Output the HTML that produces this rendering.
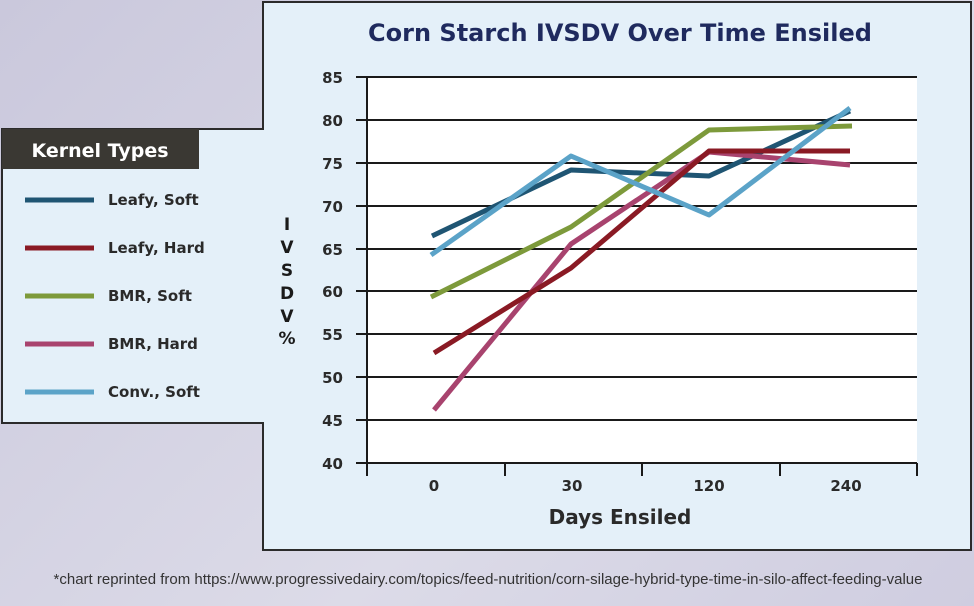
<!DOCTYPE html>
<html><head><meta charset="utf-8"><style>
html,body{margin:0;padding:0;width:974px;height:606px;overflow:hidden;background:linear-gradient(135deg,#cac8dc,#dcdbe8 60%,#cfcde0);}
svg{display:block}
text{font-family:"DejaVu Sans","Liberation Sans",sans-serif;font-weight:bold;}
</style></head><body>
<svg width="974" height="606" viewBox="0 0 974 606">
<path d="M263,2 L971,2 L971,550 L263,550 L263,423 L2,423 L2,129 L263,129 Z" fill="#e4f0f9" stroke="#2b2b2b" stroke-width="2"/>
<rect x="2" y="129" width="197" height="40" fill="#3a3833"/>
<text x="100" y="157" font-size="19" fill="#fff" text-anchor="middle">Kernel Types</text>
<g stroke-width="5">
<line x1="25" y1="200" x2="94" y2="200" stroke="#1f5573"/>
<line x1="25" y1="248" x2="94" y2="248" stroke="#8a1a24"/>
<line x1="25" y1="296" x2="94" y2="296" stroke="#7d9a3b"/>
<line x1="25" y1="344" x2="94" y2="344" stroke="#a8436e"/>
<line x1="25" y1="392" x2="94" y2="392" stroke="#5ba3c8"/>
</g>
<g font-size="15" fill="#2a2a2a">
<text x="108" y="205">Leafy, Soft</text>
<text x="108" y="253">Leafy, Hard</text>
<text x="108" y="301">BMR, Soft</text>
<text x="108" y="349">BMR, Hard</text>
<text x="108" y="397">Conv., Soft</text>
</g>
<text x="620" y="41" font-size="24" fill="#1f2a5e" text-anchor="middle">Corn Starch IVSDV Over Time Ensiled</text>
<rect x="367" y="77" width="550" height="386" fill="#fff"/>
<g stroke="#1a1a1a" stroke-width="2">
<line x1="356" y1="77" x2="917" y2="77"/><line x1="356" y1="120" x2="917" y2="120"/>
<line x1="356" y1="163" x2="917" y2="163"/><line x1="356" y1="206" x2="917" y2="206"/>
<line x1="356" y1="249" x2="917" y2="249"/><line x1="356" y1="291" x2="917" y2="291"/>
<line x1="356" y1="334" x2="917" y2="334"/><line x1="356" y1="377" x2="917" y2="377"/>
<line x1="356" y1="420" x2="917" y2="420"/><line x1="356" y1="463" x2="917" y2="463"/>
<line x1="367" y1="77" x2="367" y2="476"/>
<line x1="505" y1="463" x2="505" y2="476"/><line x1="642" y1="463" x2="642" y2="476"/>
<line x1="780" y1="463" x2="780" y2="476"/><line x1="917" y1="463" x2="917" y2="476"/>
</g>
<g font-size="15" fill="#2a2a2a" text-anchor="end">
<text x="343" y="83">85</text><text x="343" y="126">80</text><text x="343" y="169">75</text>
<text x="343" y="212">70</text><text x="343" y="255">65</text><text x="343" y="297">60</text>
<text x="343" y="340">55</text><text x="343" y="383">50</text><text x="343" y="426">45</text>
<text x="343" y="469">40</text>
</g>
<g font-size="15" fill="#2a2a2a" text-anchor="middle">
<text x="434" y="491">0</text><text x="572" y="491">30</text><text x="709" y="491">120</text><text x="846" y="491">240</text>
</g>
<text x="620" y="524" font-size="20" fill="#2a2a2a" text-anchor="middle">Days Ensiled</text>
<g font-size="17" fill="#1a1a1a" text-anchor="middle">
<text x="287" y="230">I</text><text x="287" y="253">V</text><text x="287" y="276">S</text>
<text x="287" y="299">D</text><text x="287" y="322">V</text><text x="287" y="344">%</text>
</g>
<g fill="none" stroke-width="5" stroke-linejoin="round">
<polyline stroke="#1f5573" points="432,236 571,170 709,176 850,111"/>
<polyline stroke="#a8436e" points="434,410 571,244 709,152 850,165"/>
<polyline stroke="#8a1a24" points="434,353 571,268 709,151 850,151"/>
<polyline stroke="#7d9a3b" points="431,297 571,227 709,130 852,126"/>
<polyline stroke="#5ba3c8" points="431,255 571,156 709,215 850,108"/>
</g>
<text x="488" y="584" font-size="15" fill="#333" text-anchor="middle" style="font-family:'Liberation Sans',sans-serif;font-weight:normal">*chart reprinted from https://www.progressivedairy.com/topics/feed-nutrition/corn-silage-hybrid-type-time-in-silo-affect-feeding-value</text>
</svg>
</body></html>
